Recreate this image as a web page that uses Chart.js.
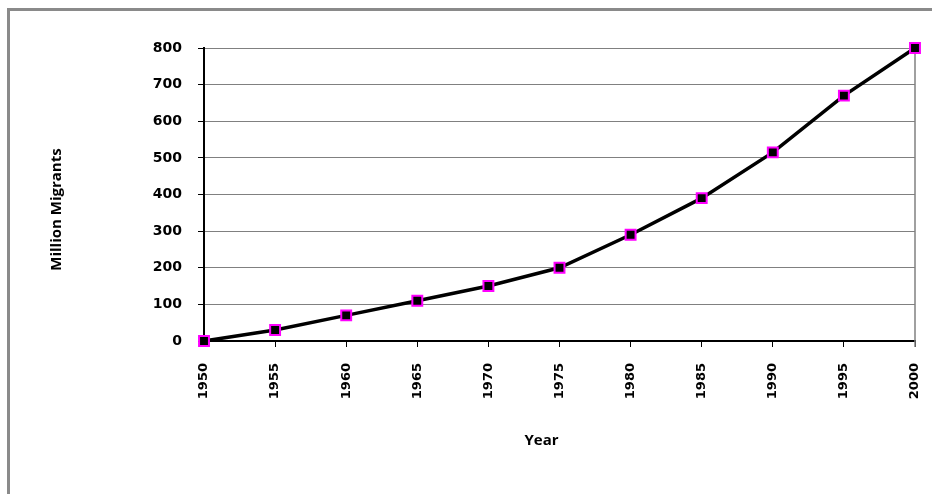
<!DOCTYPE html>
<html>
<head>
<meta charset="utf-8">
<script src="https://cdn.jsdelivr.net/npm/chart.js@4/dist/chart.umd.min.js"></script>
<style>
    body { margin: 0; background: #fff; overflow: hidden; }
    #frame {
        position: absolute; left: 7px; top: 8px;
        width: 1000px; height: 600px;
        border: 3px solid #8a8a8a;
    }
    #chart { position: absolute; left: 0; top: 0; }
</style>
</head>
<body>
<div id="frame"></div>
<canvas id="chart" width="932" height="494"></canvas>
<script>
// Data
const years = ['1950', '1955', '1960', '1965', '1970', '1975', '1980', '1985', '1990', '1995', '2000'];
const migrants = [0, 30, 70, 110, 150, 200, 290, 390, 515, 670, 800];
const yMin = 0;
const yMax = 800;
const yStep = 100;
const xTitle = 'Year';
const yTitle = 'Million Migrants';

// gray right edge of the plot area + axis titles placed like Excel does
const plotExtras = {
    id: 'plotExtras',
    beforeDatasetsDraw(chart) {
        const a = chart.chartArea;
        const ctx = chart.ctx;
        ctx.save();
        ctx.strokeStyle = '#808080';
        ctx.lineWidth = 1.5;
        ctx.beginPath();
        ctx.moveTo(a.right, a.top);
        ctx.lineTo(a.right, a.bottom + 6);
        ctx.stroke();
        ctx.restore();
    },
    afterDraw(chart) {
        const a = chart.chartArea;
        const ctx = chart.ctx;
        ctx.save();
        ctx.fillStyle = '#000';
        ctx.font = "bold 15px 'Open Sans'";
        ctx.textAlign = 'center';
        ctx.textBaseline = 'middle';
        ctx.fillText(xTitle, (a.left + a.right) / 2 - 18, a.bottom + 100);
        ctx.translate(57, (a.top + a.bottom) / 2 + 15);
        ctx.rotate(-Math.PI / 2);
        ctx.fillText(yTitle, 0, 0);
        ctx.restore();
    }
};

function createMigrantChart() {
    const ctx = document.getElementById('chart').getContext('2d');

    new Chart(ctx, {
        type: 'line',
        data: {
            labels: years,
            datasets: [{
                label: yTitle,
                data: migrants,
                borderColor: '#000000',
                borderWidth: 3.5,
                tension: 0,
                pointStyle: 'rect',
                pointRadius: 7,
                pointHoverRadius: 7,
                pointBackgroundColor: '#000000',
                pointBorderColor: '#ff00ff',
                pointBorderWidth: 2,
                clip: false
            }]
        },
        options: {
            responsive: false,
            devicePixelRatio: 1,
            animation: false,
            layout: {
                padding: { left: 50, top: 48, right: 17, bottom: 43 }
            },
            plugins: {
                legend: { display: false },
                tooltip: { enabled: false }
            },
            scales: {
                y: {
                    min: yMin,
                    max: yMax,
                    afterFit(scale) { scale.width = 154; },
                    ticks: {
                        stepSize: yStep,
                        color: '#000',
                        padding: 16,
                        font: { family: 'DejaVu Sans', size: 14, weight: 'bold' }
                    },
                    grid: {
                        color: '#808080',
                        lineWidth: 1,
                        tickLength: 6,
                        tickColor: '#000'
                    },
                    border: { color: '#000', width: 2 }
                },
                x: {
                    offset: false,
                    afterFit(scale) {
                        scale.height = 110;
                        scale.paddingLeft = 0;
                        scale.paddingRight = 0;
                    },
                    ticks: {
                        minRotation: 90,
                        maxRotation: 90,
                        color: '#000',
                        padding: 16,
                        font: { family: 'DejaVu Sans', size: 13, weight: 'bold' }
                    },
                    grid: {
                        drawOnChartArea: false,
                        tickLength: 6,
                        tickColor: '#000'
                    },
                    border: { color: '#000', width: 2 }
                }
            }
        },
        plugins: [plotExtras]
    });
}

createMigrantChart();
</script>
</body>
</html>
